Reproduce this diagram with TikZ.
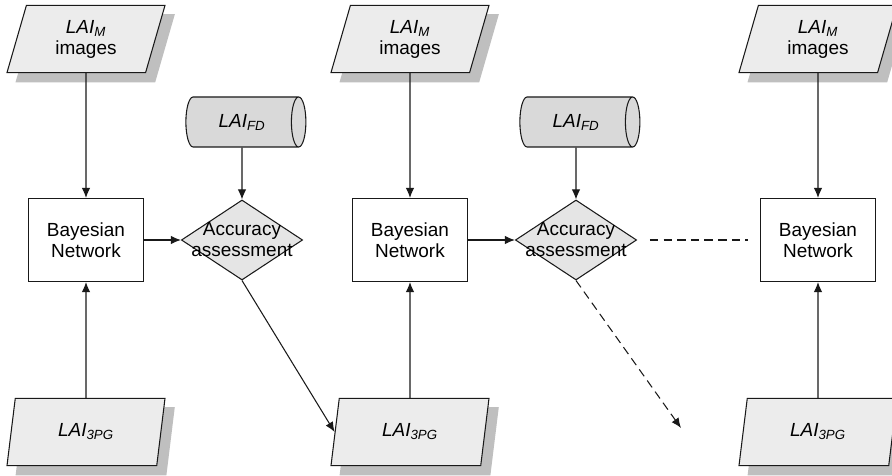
\documentclass[tikz,border=0pt]{standalone}
\usepackage{fontspec}
\setmainfont{Liberation Sans}
\usepackage{tikz}
\usepackage{xcolor}
\usetikzlibrary{arrows.meta,shapes.geometric,backgrounds}

\tikzset{
  dataio/.style={trapezium, trapezium left angle=63, trapezium right angle=117,
    trapezium stretches body, minimum width=3.95cm, minimum height=1.68cm,
    inner sep=0pt, draw=black!90, fill=gray!15, align=center},
  bnet/.style={rectangle, draw=black!90, fill=white, minimum width=2.875cm,
    minimum height=2.075cm, align=center},
  fielddb/.style={cylinder, shape aspect=0.9, draw=black!90, fill=gray!30,
    minimum width=1.25cm, minimum height=3cm, inner sep=0pt},
  assess/.style={diamond, draw=black!90, fill=gray!20, minimum width=3.03cm,
    minimum height=2cm, inner sep=0pt},
  flow/.style={draw=black!90, ->},
  flowdash/.style={draw=black!90, dash pattern=on 6pt off 3.7pt}
}

\newcommand{\laim}{\textit{LAI}\textsubscript{\textit{M}}\\images}
\newcommand{\laipg}{\textit{LAI}\textsubscript{\textit{3PG}}}
\newcommand{\laifd}{\textit{LAI}\textsubscript{\textit{FD}}}
% grey shadow behind a parallelogram
\newcommand{\ioshadow}[1]{%
  \fill[gray!50] ([shift={(0.23,-0.23)}]#1.bottom left corner)
    -- ([shift={(0.23,-0.23)}]#1.bottom right corner)
    -- ([shift={(0.23,-0.23)}]#1.top right corner)
    -- ([shift={(0.23,-0.23)}]#1.top left corner) -- cycle;}

\begin{document}
\begin{tikzpicture}[line width=0.75pt, >={Latex[length=2.5mm,width=2.1mm]},
  font=\fontsize{13.5}{15}\selectfont]

\useasboundingbox (0,0) rectangle (22.3,-11.9);

% LAI_M inputs
\node[dataio] (lm1) at (2.15,-0.975) {\laim};
\node[dataio] (lm2) at (10.25,-0.975) {\laim};
\node[dataio] (lm3) at (20.45,-0.975) {\laim};

% LAI_3PG inputs
\node[dataio] (lp1) at (2.15,-10.8) {\laipg};
\node[dataio] (lp2) at (10.25,-10.8) {\laipg};
\node[dataio] (lp3) at (20.45,-10.8) {\laipg};

% Shadows
\begin{scope}[on background layer]
  \foreach \n in {lm1,lm2,lm3,lp1,lp2,lp3} {\ioshadow{\n}}
\end{scope}

% Bayesian networks
\node[bnet] (bn1) at (2.15,-6.0) {Bayesian\\Network};
\node[bnet] (bn2) at (10.25,-6.0) {Bayesian\\Network};
\node[bnet] (bn3) at (20.45,-6.0) {Bayesian\\Network};

% Field data
\node[fielddb] (fd1) at (6.05,-3.05) {\laifd};
\node[fielddb] (fd2) at (14.4,-3.05) {\laifd};

% Accuracy checks
\node[assess, label={[align=center, name=ac1t]center:Accuracy\\assessment}] (ac1) at (6.05,-6.0) {};
\node[assess, label={[align=center, name=ac2t]center:Accuracy\\assessment}] (ac2) at (14.4,-6.0) {};

\coordinate (nxt) at (17.025,-10.7);

% Connectors
\foreach \i in {1,2,3}{
  \draw[flow] (lm\i.south) -- (bn\i.north);
  \draw[flow] (lp\i.north) -- (bn\i.south);
}
\foreach \i in {1,2}{
  \draw[flow] (fd\i.south) -- (ac\i.north);
  \draw[flow] (bn\i.east) -- (ac\i.west);
}
\draw[flow] (ac1.south) -- (lp2.west);
\draw[flowdash, ->] (ac2.south) -- (nxt);
\draw[flowdash, shorten <=0.32cm, shorten >=0.3cm] (ac2.east) -- (bn3.west);

\end{tikzpicture}
\end{document}
